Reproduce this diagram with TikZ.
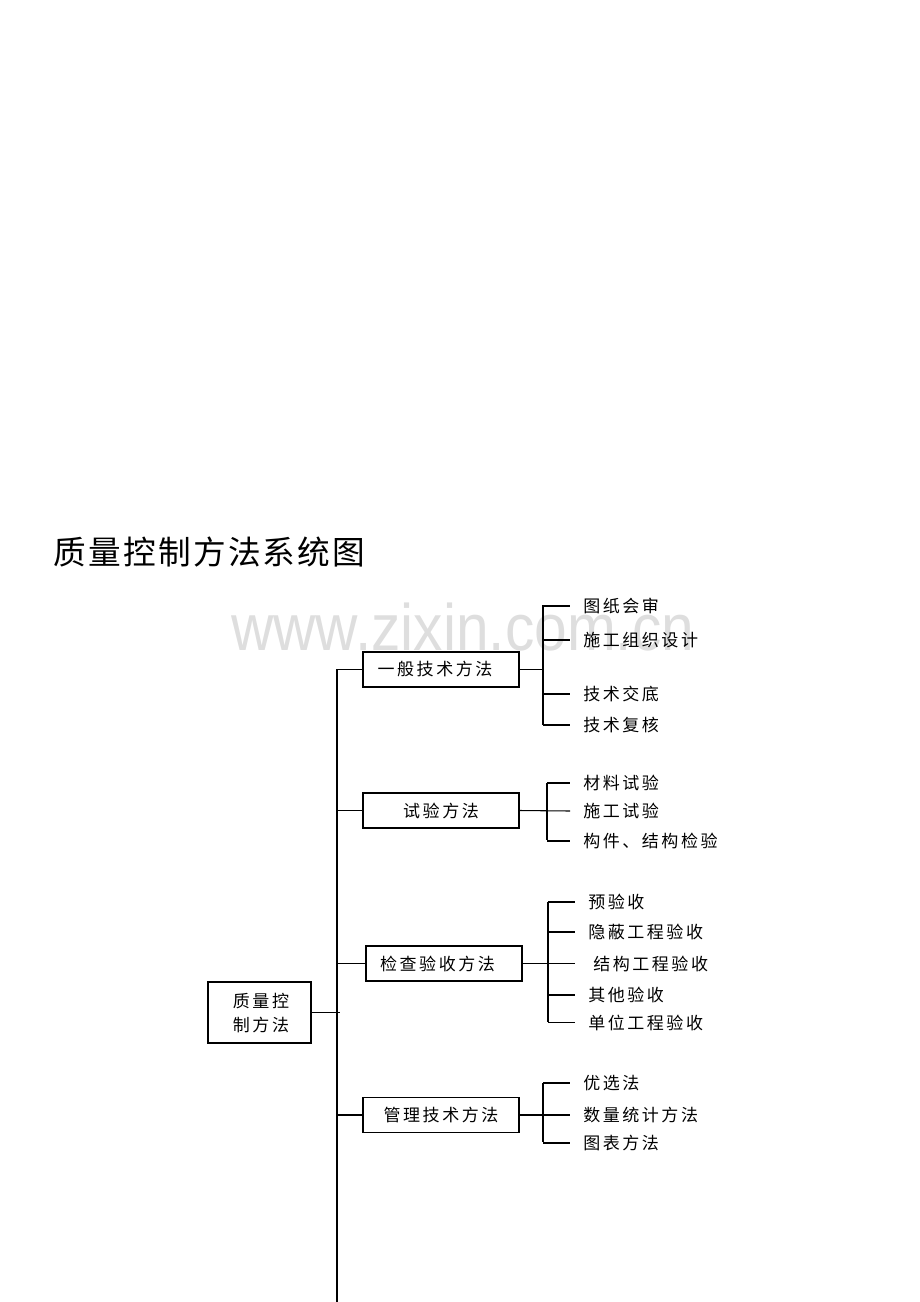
\documentclass[tikz,border=0pt]{standalone}
\usepackage{fontspec}
\setmainfont{Liberation Sans}
\newfontfamily\cjk[LetterSpace=15]{Noto Sans CJK SC}
\newfontfamily\cjkt[LetterSpace=7]{Noto Sans CJK SC}
\newfontfamily\wmfont{Liberation Sans}
\tikzset{
  conn/.style={draw=black, line width=0.8pt},
  boxsh/.style={draw=black, line width=0.8pt, inner sep=0pt, minimum width=117pt, minimum height=26.25pt},
  lbl/.style={font=\cjk\fontsize{12.75}{18}\selectfont, inner sep=0pt},
  leaf/.style={lbl, anchor=west},
}
\begin{document}
\begin{tikzpicture}[x=0.75pt,y=-0.75pt]
\useasboundingbox (0,0) rectangle (920,1302);
% watermark
\node[font=\wmfont\fontsize{44}{50}\selectfont, text=black!13, inner sep=0pt, anchor=base west] (wm) at (231,650) {\scalebox{1}[1.12]{www.zixin.com.cn}};
% title
\node[font=\cjkt\fontsize{24.5}{28}\selectfont, inner sep=0pt, anchor=west] (title) at (53,552) {质量控制方法系统图};
% root
\node[draw=black, line width=0.8pt, minimum width=77.25pt, minimum height=45.75pt, inner sep=0pt] (root) at (259.5,1012.5) {};
\node[lbl, align=center] (roott) at (261,1013.5) {质量控\\制方法};
% trunk
\coordinate (tk) at (337,669);
\coordinate (tkb) at (337,1302);
\coordinate (rootend) at (340,1012.5);
\draw[conn] (tk) -- (tkb);
\draw[conn] (root.east) -- (rootend);
% level-1 boxes
\node[boxsh] (b1) at (441,669.5) {};
\node[lbl] (t1) at (435,669.5) {一般技术方法};
\node[boxsh] (b2) at (441,810.5) {};
\node[lbl] (t2) at (441,810.5) {试验方法};
\node[boxsh] (b3) at (444,963.5) {};
\node[lbl] (t3) at (437.5,963.5) {检查验收方法};
\node[boxsh] (b4) at (441,1115) {};
\node[lbl] (t4) at (441,1115) {管理技术方法};
\foreach \b in {b1,b2,b3,b4} \draw[conn] (\b.west -| tk) -- (\b.west);
% group 1
\coordinate (k1t) at (543,605);
\coordinate (k1b) at (543,725);
\draw[conn] (k1t) -- (k1b);
\draw[conn] (b1.east) -- (b1.east -| k1t);
\node[leaf] (l11) at (583,606) {图纸会审};
\node[leaf] (l12) at (583,640) {施工组织设计};
\node[leaf] (l13) at (583,694) {技术交底};
\node[leaf] (l14) at (583,725) {技术复核};
\foreach \l in {l11,l12,l13,l14} \draw[conn] (\l.west -| k1t) -- +(27,0);
% group 2
\coordinate (k2t) at (547,783);
\coordinate (k2b) at (547,840);
\draw[conn] (k2t) -- (k2b);
\node[leaf] (l21) at (583,783) {材料试验};
\node[leaf] (l22) at (583,811) {施工试验};
\node[leaf] (l23) at (583,841) {构件、结构检验};
\draw[conn] (l21.west -| k2t) -- +(23,0);
\draw[conn] (l23.west -| k2t) -- +(23,0);
\draw[conn] (b2.east) -- ([xshift=-9.75pt]l22.west);
% group 3
\coordinate (k3t) at (548,902);
\coordinate (k3b) at (548,1022);
\draw[conn] (k3t) -- (k3b);
\node[leaf] (l31) at (588,902) {预验收};
\node[leaf] (l32) at (588,932) {隐蔽工程验收};
\node[leaf] (l33) at (593,963.5) {结构工程验收};
\node[leaf] (l34) at (588,995) {其他验收};
\node[leaf] (l35) at (588,1022.5) {单位工程验收};
\foreach \l in {l31,l32,l34,l35} \draw[conn] (\l.west -| k3t) -- +(27,0);
\draw[conn] (b3.east) -- ([xshift=-13.5pt]l33.west);
% group 4
\coordinate (k4t) at (543,1083);
\coordinate (k4b) at (543,1142);
\draw[conn] (k4t) -- (k4b);
\node[leaf] (l41) at (583,1083) {优选法};
\node[leaf] (l42) at (583,1115) {数量统计方法};
\node[leaf] (l43) at (583,1143) {图表方法};
\draw[conn] (l41.west -| k4t) -- +(27,0);
\draw[conn] (l43.west -| k4t) -- +(27,0);
\draw[conn] (b4.east) -- ([xshift=-9.75pt]l42.west);
\end{tikzpicture}
\end{document}
